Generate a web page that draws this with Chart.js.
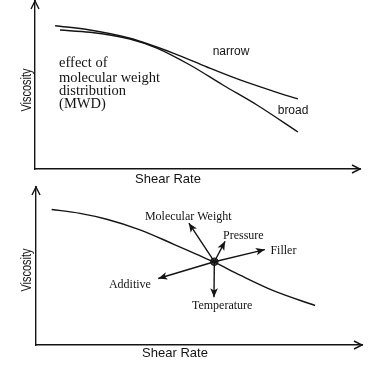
<!DOCTYPE html>
<html>
<head>
<meta charset="utf-8">
<script src="https://cdn.jsdelivr.net/npm/chart.js@4"></script>
<style>
  html, body { margin: 0; padding: 0; background: #fff; }
  .wrap { position: relative; width: 382px; height: 373px; }
  canvas { display: block; position: absolute; left: 0; }
</style>
</head>
<body>
<div class="wrap">
  <canvas id="top" width="382" height="190" style="top:0"></canvas>
  <canvas id="bottom" width="382" height="191" style="top:182px"></canvas>
</div>
<script>
// ---------- DATA (arbitrary units: shear rate 0-100, viscosity 0-100) ----------
const narrowX = [6.2, 16.9, 29.2, 42.5, 52.9, 63.1, 73.2, 80.9];
const narrowY = [85.3, 82.7, 77.8, 69.0, 60.7, 53.0, 46.4, 41.7];
const broadX  = [7.7, 16.9, 29.2, 37.5, 47.7, 57.8, 68.3, 80.9];
const broadY  = [82.7, 81.4, 77.4, 72.0, 61.9, 50.0, 38.1, 22.0];

const curveX = [4.8, 13.5, 21.7, 31.9, 42.1, 49.3, 54.4, 62.6, 72.8, 85.6];
const curveY = [85.8, 83.3, 79.6, 72.9, 63.9, 57.3, 52.7, 44.2, 34.4, 25.0];

const pointX = 54.7;
const pointY = 52.7;
const factorNames = ['Molecular Weight', 'Pressure', 'Filler', 'Additive', 'Temperature'];
const factorTipX  = [46.9, 58.0, 70.2, 37.5, 54.6];
const factorTipY  = [77.1, 65.6, 60.4, 42.1, 30.2];

const axisX = 'Shear Rate';
const axisY = 'Viscosity';
const seriesNames = ['narrow', 'broad'];
const noteLines = ['effect of', 'molecular weight', 'distribution', '(MWD)'];

// ---------- helpers ----------
const zip = (xs, ys) => xs.map((x, i) => ({ x: x, y: ys[i] }));
const INK = '#141414';
const SANS = '"Liberation Sans", Arial, sans-serif';
const SERIF = '"Liberation Serif", "Times New Roman", serif';

function openHead(ctx, x, y, ang) {
  const L = 8, W = 4;
  ctx.save();
  ctx.strokeStyle = INK; ctx.lineWidth = 1.4;
  ctx.translate(x, y); ctx.rotate(ang);
  ctx.beginPath();
  ctx.moveTo(-L, -W); ctx.lineTo(0, 0); ctx.lineTo(-L, W);
  ctx.stroke();
  ctx.restore();
}
function solidHead(ctx, x, y, ang) {
  const L = 9, W = 3.8;
  ctx.save();
  ctx.fillStyle = INK;
  ctx.translate(x, y); ctx.rotate(ang);
  ctx.beginPath();
  ctx.moveTo(0, 0); ctx.lineTo(-L, -W); ctx.lineTo(-L * 0.75, 0); ctx.lineTo(-L, W);
  ctx.closePath(); ctx.fill();
  ctx.restore();
}
function axesDecor(chart, yTitlePos, xTitlePos) {
  const ctx = chart.ctx, a = chart.chartArea;
  ctx.save();
  ctx.strokeStyle = INK; ctx.lineWidth = 1.4;
  ctx.beginPath(); ctx.moveTo(a.left, a.top); ctx.lineTo(a.left, a.top - 1); ctx.stroke();
  ctx.restore();
  openHead(ctx, a.left, a.top, -Math.PI / 2);
  openHead(ctx, a.right, a.bottom, 0);
  ctx.save();
  ctx.fillStyle = INK;
  ctx.font = '13px ' + SANS;
  ctx.textAlign = 'center'; ctx.textBaseline = 'middle';
  ctx.fillText(axisX, xTitlePos[0], xTitlePos[1]);
  ctx.translate(yTitlePos[0], yTitlePos[1]);
  ctx.rotate(-Math.PI / 2);
  ctx.font = '14px ' + SANS;
  ctx.fillText(axisY, 0, 0, 43);
  ctx.restore();
}

function baseScales(yWidth, xHeight) {
  const common = {
    type: 'linear', min: 0, max: 100,
    grid: { display: false, drawTicks: false },
    border: { display: true, color: INK, width: 1.4 },
    ticks: { display: false },
  };
  return {
    x: Object.assign({}, common, { afterFit: s => { s.height = xHeight; } }),
    y: Object.assign({}, common, { afterFit: s => { s.width = yWidth; } }),
  };
}
const lineStyle = { borderColor: INK, borderWidth: 1.4, pointRadius: 0, fill: false, tension: 0.4, cubicInterpolationMode: 'monotone' };

// ---------- TOP CHART ----------
const topLabels = {
  id: 'topLabels',
  afterDraw(chart) {
    const ctx = chart.ctx, sx = chart.scales.x, sy = chart.scales.y;
    axesDecor(chart, [27, 90], [168, 179]);
    ctx.save();
    ctx.fillStyle = INK;
    ctx.font = '12px ' + SANS;
    ctx.textAlign = 'center'; ctx.textBaseline = 'middle';
    ctx.fillText(seriesNames[0], sx.getPixelForValue(60.3), sy.getPixelForValue(69.6));
    ctx.fillText(seriesNames[1], sx.getPixelForValue(79.4), sy.getPixelForValue(34.5));
    ctx.font = '14.5px ' + SERIF;
    ctx.textAlign = 'left';
    const ys = [63.1, 54.2, 46.4, 38.7];
    noteLines.forEach((t, i) => ctx.fillText(t, sx.getPixelForValue(7.4), sy.getPixelForValue(ys[i])));
    ctx.restore();
  }
};
new Chart(document.getElementById('top'), {
  type: 'line',
  data: {
    datasets: [
      Object.assign({ label: seriesNames[0], data: zip(narrowX, narrowY) }, lineStyle),
      Object.assign({ label: seriesNames[1], data: zip(broadX, broadY) }, lineStyle),
    ]
  },
  options: {
    responsive: false, animation: false, devicePixelRatio: 1,
    layout: { padding: { top: 1, right: 22, left: 0, bottom: 0 } },
    plugins: { legend: { display: false }, tooltip: { enabled: false } },
    scales: baseScales(35, 21),
  },
  plugins: [topLabels]
});

// ---------- BOTTOM CHART ----------
const labelPos = [[46.7, 80.8], [63.6, 69.4], [75.9, 59.4], [28.8, 37.9], [57.1, 25.0]];
const bottomLabels = {
  id: 'bottomLabels',
  afterDraw(chart) {
    const ctx = chart.ctx, sx = chart.scales.x, sy = chart.scales.y;
    axesDecor(chart, [27, 88], [175, 171]);
    const px = sx.getPixelForValue(pointX), py = sy.getPixelForValue(pointY);
    factorNames.forEach((n, i) => {
      const tx = sx.getPixelForValue(factorTipX[i]), ty = sy.getPixelForValue(factorTipY[i]);
      solidHead(ctx, tx, ty, Math.atan2(ty - py, tx - px));
    });
    ctx.save();
    ctx.fillStyle = INK;
    ctx.font = '12px ' + SERIF;
    ctx.textAlign = 'center'; ctx.textBaseline = 'middle';
    factorNames.forEach((n, i) => {
      ctx.fillText(n, sx.getPixelForValue(labelPos[i][0]), sy.getPixelForValue(labelPos[i][1]));
    });
    ctx.restore();
  }
};
const arrowSets = factorNames.map((n, i) => ({
  label: n,
  data: [{ x: pointX, y: pointY }, { x: factorTipX[i], y: factorTipY[i] }],
  borderColor: INK, borderWidth: 1.4, pointRadius: 0, fill: false, tension: 0,
}));
new Chart(document.getElementById('bottom'), {
  type: 'line',
  data: {
    datasets: [
      Object.assign({ label: 'viscosity curve', data: zip(curveX, curveY) }, lineStyle),
      ...arrowSets,
      { label: 'operating point', data: [{ x: pointX, y: pointY }], showLine: false,
        pointRadius: 3.8, pointBackgroundColor: '#4a4a4a', pointBorderColor: INK, pointBorderWidth: 1 },
    ]
  },
  options: {
    responsive: false, animation: false, devicePixelRatio: 1,
    layout: { padding: { top: 3, right: 20, left: 0, bottom: 0 } },
    plugins: { legend: { display: false }, tooltip: { enabled: false } },
    scales: baseScales(36, 28),
  },
  plugins: [bottomLabels]
});
</script>
</body>
</html>
